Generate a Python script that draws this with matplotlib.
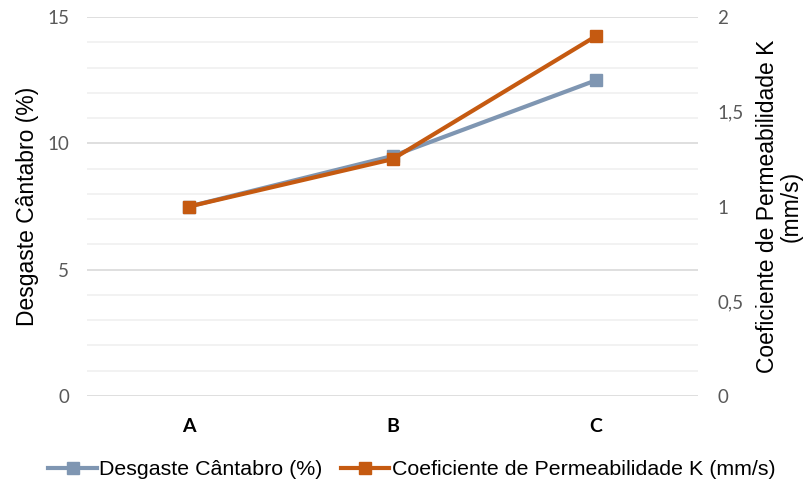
import matplotlib
matplotlib.use("Agg")
import matplotlib.pyplot as plt
from matplotlib.ticker import MultipleLocator, FuncFormatter

categories = ["A", "B", "C"]
desgaste = [7.5, 9.5, 12.5]
permeabilidade = [1.0, 1.25, 1.9]
left_ticks = [0, 5, 10, 15]
right_ticks = [0, 0.5, 1, 1.5, 2]

c_gray = "#7F96B2"
c_orange = "#C55A11"
tick_color = "#595959"

plt.rcParams['font.family'] = ['Liberation Sans', 'DejaVu Sans']

fig = plt.figure(figsize=(8.06, 4.88), dpi=100)
ax = fig.add_axes([0.108, 0.1885, 0.758, 0.7765])
x = list(range(len(categories)))

ax.set_xlim(-0.5, 2.5)
ax.set_ylim(0, 15)
ax.set_yticks(left_ticks)
ax.yaxis.set_minor_locator(MultipleLocator(1))
ax.grid(which='minor', axis='y', color='#F0F0F0', linewidth=1.2)
ax.grid(which='major', axis='y', color='#D9D9D9', linewidth=1.2)
ax.set_axisbelow(True)
for s in ax.spines.values():
    s.set_visible(False)
ax.tick_params(axis='both', which='both', length=0)
ax.tick_params(axis='y', labelsize=13.5, labelcolor=tick_color, pad=13)
for t in ax.get_yticklabels():
    t.set_family(['Lato', 'DejaVu Sans'])
ax.set_xticks(x)
ax.set_xticklabels(categories, fontsize=14, fontweight='bold', family=['Lato', 'DejaVu Sans'])
ax.tick_params(axis='x', pad=16)

l1, = ax.plot(x, desgaste, color=c_gray, linewidth=3, marker='s', markersize=8,
              label='Desgaste Cântabro (%)', zorder=3)
ax.set_ylabel('Desgaste Cântabro (%)', fontsize=16.5, labelpad=6)

ax2 = ax.twinx()
ax2.set_ylim(0, 2)
ax2.set_yticks(right_ticks)
ax2.yaxis.set_major_formatter(FuncFormatter(lambda v, p: ('%g' % v).replace('.', ',')))
for s in ax2.spines.values():
    s.set_visible(False)
ax2.tick_params(axis='y', length=0, labelsize=13.5, labelcolor=tick_color, pad=14)
for t in ax2.get_yticklabels():
    t.set_family(['Lato', 'DejaVu Sans'])
l2, = ax2.plot(x, permeabilidade, color=c_orange, linewidth=3, marker='s', markersize=8,
               label='Coeficiente de Permeabilidade K (mm/s)', zorder=3)
ax2.set_ylabel('Coeficiente de Permeabilidade K\n(mm/s)', fontsize=16.5, labelpad=9, linespacing=1.0)

fig.legend(handles=[l1, l2], loc='lower center', bbox_to_anchor=(0.511, -0.022), ncol=2,
           frameon=False, fontsize=15.4, handlelength=2.25, columnspacing=0.9, handletextpad=0.1)

fig.savefig('out.png', dpi=100)
